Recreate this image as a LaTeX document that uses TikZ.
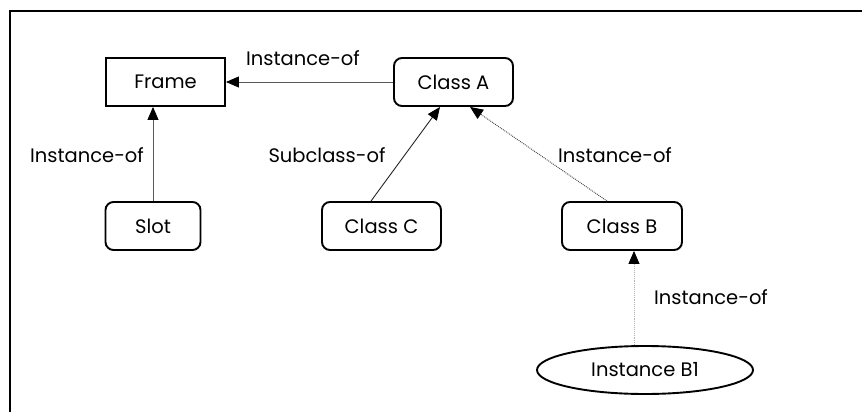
\documentclass[tikz,border=0pt]{standalone}
\usepackage{fontspec}
\setmainfont{Poppins}
\usetikzlibrary{arrows.meta,shapes.geometric}
\begin{document}
\begin{tikzpicture}[x=1pt,y=-1pt,
  every node/.style={font=\fontsize{19.5}{22}\selectfont},
  sqbox/.style={draw=black,line width=1.9pt,minimum width=119pt,minimum height=48pt,inner sep=0pt},
  rbox/.style={sqbox,rounded corners=8pt},
  oval/.style={draw=black,line width=1.9pt,ellipse,minimum width=216pt,minimum height=48pt,inner sep=0pt},
  conn/.style={line width=0.9pt,-{Triangle[length=13pt,width=11pt,color=black,fill=black]}},
  lbl/.style={inner sep=0pt}]
\useasboundingbox (0,0) rectangle (862,412);
\fill[white] (0,0) rectangle (862,412);
\draw[line width=1.8pt] (10,412) -- (10,11) -- (862,11);
\node[sqbox] (frame) at (165.5,82) {Frame};
\node[rbox] (classA) at (453.5,82) {Class A};
\node[rbox,minimum width=95pt] (slot) at (153,226) {Slot};
\node[rbox] (classC) at (381.5,226) {Class C};
\node[rbox,minimum width=120pt] (classB) at (622,226) {Class B};
\node[oval] (b1) at (645,370) {\raisebox{-4pt}{Instance B1}};
\draw[conn,draw=black!65] (classA.west) -- (frame.east);
\draw[conn,draw=black!65] ([xshift=0pt]slot.north) -- (slot.north |- frame.south);
\draw[conn,draw=black!85] ([xshift=-10.5pt]classC.north) -- ([xshift=-13.5pt]classA.south);
\draw[conn,draw=black!75,densely dotted] ([xshift=-15pt]classB.north) -- ([xshift=16.5pt]classA.south);
\draw[conn,draw=black!30,densely dotted] ([xshift=12pt]classB.south |- b1.north) -- ([xshift=12pt]classB.south);
\node[lbl] (l1) at (303,58) {Instance-of};
\node[lbl] (l2) at (87,155) {Instance-of};
\node[lbl] (l3) at (327,155) {Subclass-of};
\node[lbl] (l4) at (615,155) {Instance-of};
\node[lbl] (l5) at (711,297) {Instance-of};
\end{tikzpicture}
\end{document}
